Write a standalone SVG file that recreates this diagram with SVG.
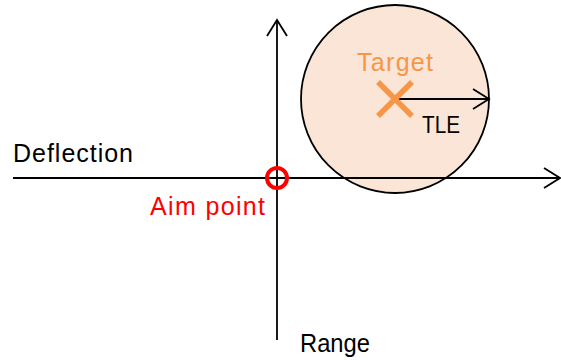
<svg xmlns="http://www.w3.org/2000/svg" width="561" height="360" viewBox="0 0 561 360">
<style>
.ax{stroke:#000;stroke-width:1.8;fill:none}
.lbl{font-family:"Liberation Sans",Arial,sans-serif;font-size:25px}
</style>
<defs>
<marker id="chev" markerUnits="userSpaceOnUse" viewBox="-18 -11 20 22" markerWidth="20" markerHeight="22" refX="0" refY="0" orient="auto">
<path d="M-16,-10 L0,0 L-16,10" fill="none" stroke="#000" stroke-width="1.8"/>
</marker>
</defs>
<rect width="561" height="360" fill="#fff"/>
<g id="target-zone">
<circle cx="395" cy="99" r="94" fill="#FBE5D6" stroke="#000" stroke-width="1.8"/>
</g>
<g id="connectors">
<line class="ax" x1="13" y1="178" x2="560" y2="178" marker-end="url(#chev)"/>
<line class="ax" x1="277" y1="340" x2="277" y2="20" marker-end="url(#chev)"/>
<line class="ax" x1="395" y1="99" x2="489" y2="99" marker-end="url(#chev)"/>
</g>
<g id="target">
<path d="M378,82 L412,116 M412,82 L378,116" stroke="#F79646" stroke-width="5.5" fill="none"/>
<text class="lbl" x="357" y="71" fill="#F79646" textLength="76">Target</text>
</g>
<g id="tle">
<text class="lbl" x="422" y="133" fill="#000" style="font-size:23px" textLength="38" lengthAdjust="spacingAndGlyphs">TLE</text>
</g>
<g id="aim-point">
<circle cx="277" cy="178" r="10" fill="none" stroke="#FF0000" stroke-width="4"/>
<text class="lbl" x="150" y="215" fill="#FF0000" textLength="115">Aim point</text>
</g>
<g id="deflection">
<text class="lbl" x="13" y="162" fill="#000" textLength="120">Deflection</text>
</g>
<g id="range">
<text class="lbl" x="300" y="352" fill="#000" style="font-size:26px" textLength="70" lengthAdjust="spacingAndGlyphs">Range</text>
</g>
</svg>
